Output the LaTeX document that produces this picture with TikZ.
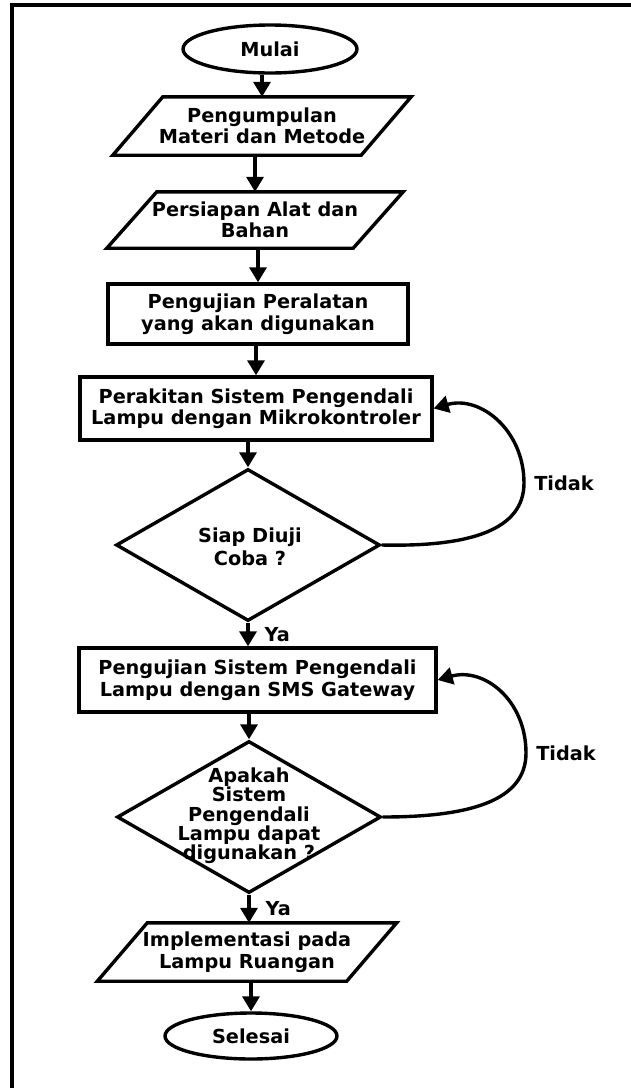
\documentclass[tikz,border=0pt]{standalone}
\usepackage{fontspec}
\setmainfont{DejaVu Sans}
\usetikzlibrary{arrows.meta,shapes.geometric,calc}
\begin{document}
\begin{tikzpicture}[x=1pt,y=-1pt,
  every node/.style={font=\bfseries\fontsize{19.3}{21.5}\selectfont, align=center},
  box/.style={draw, line width=3.4pt, rectangle, inner sep=0pt},
  term/.style={draw, line width=3.4pt, ellipse, inner sep=0pt},
  dec/.style={draw, line width=3.4pt, diamond, inner sep=0pt},
  para/.style={rectangle, inner sep=0pt},
  shp/.style={line width=3.4pt, line join=miter},
  arr/.style={line width=3.4pt, -{Triangle[length=15pt,width=17pt]}},
  lbl/.style={inner sep=0pt}]
\useasboundingbox (0,0) rectangle (630,1088);
\fill[white] (0,0) rectangle (630,1088);
\draw[line width=3.4pt] (12,1095) -- (12,5) -- (640,5);

\node[term, minimum width=174pt, minimum height=48pt] (m) at (270,49) {Mulai};
\node[para, minimum width=248pt, minimum height=58pt] (p1) at (262,126) {Pengumpulan\\Materi dan Metode};
\node[para, minimum width=246pt, minimum height=56pt] (p2) at (255,220) {Persiapan Alat dan\\Bahan};
\node[box, minimum width=300pt, minimum height=60pt] (r3) at (258,314) {Pengujian Peralatan\\yang akan digunakan};
\node[box, minimum width=352pt, minimum height=63pt] (r4) at (256,408.5) {Perakitan Sistem Pengendali\\Lampu dengan Mikrokontroler};
\node[dec, minimum width=264pt, minimum height=152pt] (d1) at (248,545) {};
\node[lbl, font=\bfseries\fontsize{19.3}{23.5}\selectfont] (d1t) at (250,547) {Siap Diuji\\Coba ?};
\node[box, minimum width=357pt, minimum height=64pt] (r6) at (257.5,680) {Pengujian Sistem Pengendali\\Lampu dengan SMS Gateway};
\node[dec, minimum width=264pt, minimum height=152pt] (d2) at (249,817) {};
\node[lbl, font=\bfseries\fontsize{19.3}{19.3}\selectfont] (d2t) at (249,816) {Apakah\\Sistem\\Pengendali\\Lampu dapat\\digunakan ?};
\node[para, minimum width=249pt, minimum height=58pt] (p8) at (247,952) {Implementasi pada\\Lampu Ruangan};
\node[term, minimum width=172pt, minimum height=46pt] (s) at (251,1036) {Selesai};

\foreach \n in {p1,p2,p8}
  \draw[shp] ([xshift=25pt]\n.north west) -- ([xshift=25pt]\n.north east)
    -- ([xshift=-25pt]\n.south east) -- ([xshift=-25pt]\n.south west) -- cycle;

\draw[arr] (m.south -| p1.north) -- (p1.north);
\draw[arr] (p1.south -| p2.north) -- (p2.north);
\draw[arr] (p2.south -| r3.north) -- (r3.north);
\draw[arr] (r3.south -| r4.north) -- (r4.north);
\draw[arr] (r4.south -| d1.north) -- (d1.north);
\draw[arr] (d1.south) -- node[lbl, right=15pt] (ya1) {Ya} (d1.south |- r6.north);
\draw[arr] (r6.south -| d2.north) -- (d2.north);
\draw[arr] (d2.south) -- node[lbl, right=15pt] (ya2) {Ya} (d2.south |- p8.north);
\draw[arr] (p8.south -| s.north) -- (s.north);

\coordinate (t1) at (524,483);
\coordinate (t2) at (526,753);
\draw[arr] (d1.east) .. controls (470,547) and (524,530) .. (t1)
  .. controls (524,430) and (480,395) .. (r4.east);
\draw[arr] (d2.east) .. controls (472,817) and (526,800) .. (t2)
  .. controls (526,700) and (484,667) .. (r6.east);
\node[lbl] (td1) at (564,483) {Tidak};
\node[lbl] (td2) at (566,753) {Tidak};
\end{tikzpicture}
\end{document}
